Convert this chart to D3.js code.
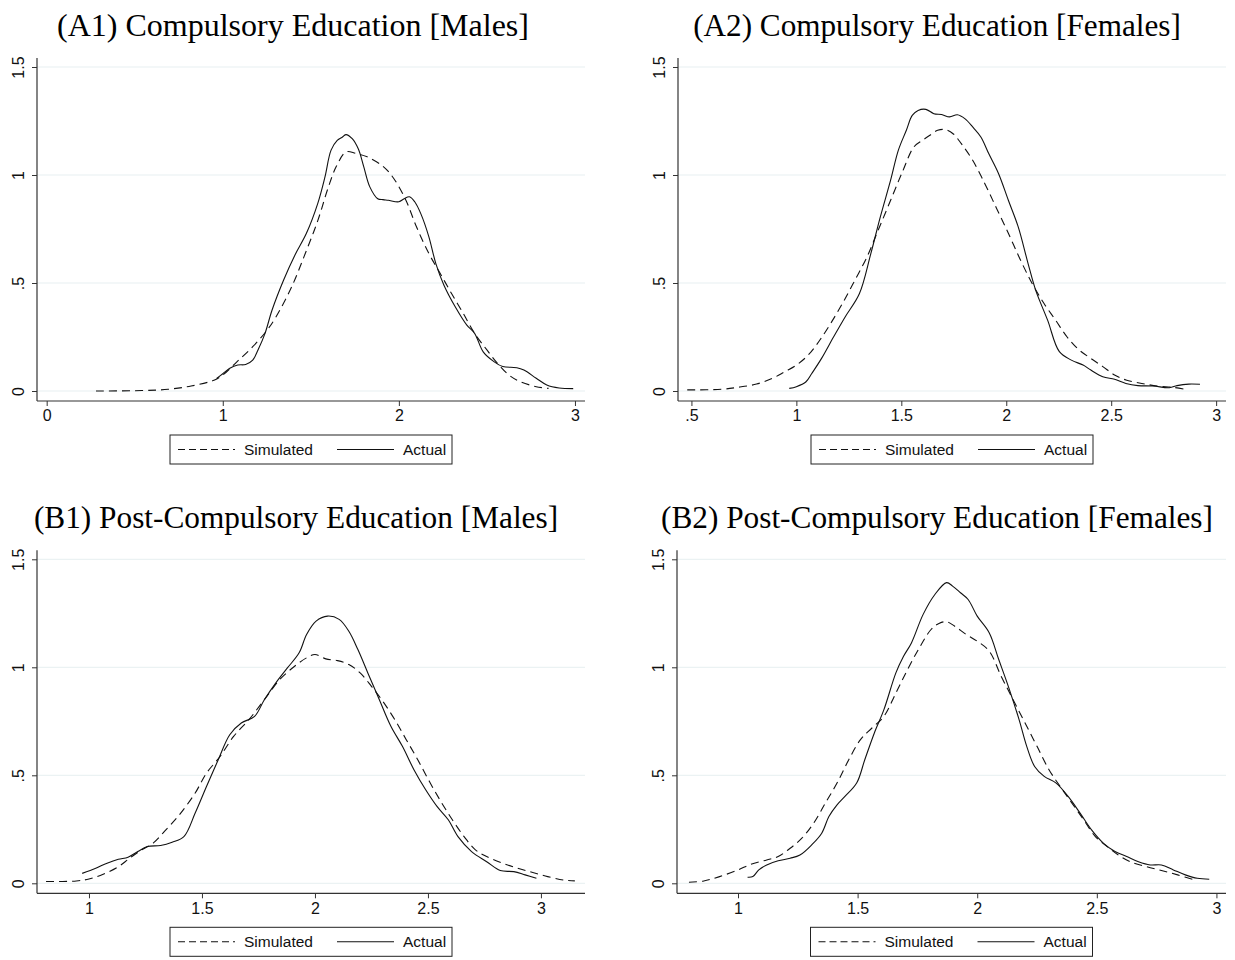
<!DOCTYPE html>
<html>
<head>
<meta charset="utf-8">
<script src="https://cdn.jsdelivr.net/npm/d3@7"></script>
<style>
  html, body { margin: 0; padding: 0; background: #fff; }
  svg { display: block; }
</style>
</head>
<body>
<svg id="chart" width="1235" height="960"></svg>
<script>
// ---------------- DATA ----------------
const panelTitles = [
  "(A1) Compulsory Education [Males]",
  "(A2) Compulsory Education [Females]",
  "(B1) Post-Compulsory Education [Males]",
  "(B2) Post-Compulsory Education [Females]"
];
const seriesNames = ["Simulated", "Actual"];
const yTickValues = [0, 0.5, 1, 1.5];
const yTickLabels = ["0", ".5", "1", "1.5"];
const xTicksA1 = [0, 1, 2, 3];
const xTicksA2 = [0.5, 1, 1.5, 2, 2.5, 3];
const xTicksB1 = [1, 1.5, 2, 2.5, 3];
const xTicksB2 = [1, 1.5, 2, 2.5, 3];

// A1 Compulsory, males
const a1SimX = [0.28,0.54,0.69,0.82,0.95,1.0,1.08,1.17,1.25,1.30,1.39,1.47,1.54,1.60,1.645,1.70,1.755,1.82,1.91,1.97,2.04,2.10,2.17,2.235,2.30,2.365,2.43,2.50,2.56,2.625,2.69,2.78,2.85];
const a1SimY = [0.0,0.002,0.008,0.023,0.05,0.074,0.135,0.205,0.28,0.34,0.48,0.64,0.79,0.945,1.04,1.107,1.10,1.084,1.04,0.985,0.883,0.76,0.637,0.544,0.45,0.36,0.267,0.19,0.128,0.074,0.043,0.02,0.012];
const a1ActX = [0.965,1.0,1.04,1.085,1.13,1.17,1.20,1.24,1.28,1.345,1.41,1.475,1.54,1.58,1.615,1.65,1.68,1.70,1.735,1.77,1.80,1.835,1.88,1.91,1.94,2.0,2.03,2.06,2.09,2.125,2.17,2.21,2.256,2.32,2.386,2.43,2.48,2.54,2.59,2.67,2.71,2.78,2.84,2.91,2.99];
const a1ActY = [0.058,0.08,0.105,0.12,0.123,0.143,0.19,0.267,0.375,0.513,0.63,0.73,0.87,0.99,1.115,1.16,1.176,1.187,1.168,1.12,1.04,0.945,0.89,0.886,0.883,0.876,0.89,0.899,0.876,0.82,0.715,0.59,0.49,0.39,0.305,0.267,0.18,0.136,0.113,0.108,0.097,0.059,0.028,0.014,0.011];

// A2 Compulsory, females
const a2SimX = [0.48,0.644,0.72,0.81,0.887,0.944,1.0,1.056,1.112,1.168,1.224,1.28,1.336,1.39,1.449,1.505,1.56,1.60,1.636,1.673,1.71,1.748,1.786,1.84,1.898,1.954,2.01,2.066,2.122,2.18,2.235,2.29,2.347,2.403,2.46,2.516,2.57,2.646,2.72,2.796,2.852];
const a2SimY = [0.005,0.008,0.017,0.032,0.059,0.089,0.12,0.166,0.236,0.32,0.413,0.515,0.62,0.745,0.883,1.014,1.13,1.16,1.184,1.207,1.21,1.19,1.145,1.068,0.96,0.845,0.73,0.61,0.5,0.405,0.328,0.25,0.19,0.151,0.113,0.074,0.051,0.035,0.023,0.017,0.008];
const a2ActX = [0.966,1.0,1.046,1.074,1.12,1.177,1.233,1.30,1.355,1.40,1.449,1.486,1.524,1.552,1.58,1.617,1.655,1.692,1.73,1.767,1.804,1.842,1.879,1.917,1.963,2.01,2.057,2.104,2.14,2.197,2.253,2.31,2.366,2.403,2.46,2.516,2.57,2.627,2.70,2.777,2.814,2.87,2.923];
const a2ActY = [0.012,0.02,0.043,0.082,0.151,0.25,0.344,0.45,0.637,0.806,0.976,1.115,1.207,1.276,1.299,1.304,1.284,1.28,1.269,1.279,1.26,1.22,1.176,1.098,1.007,0.883,0.76,0.59,0.467,0.328,0.182,0.143,0.12,0.097,0.066,0.054,0.035,0.025,0.023,0.015,0.025,0.032,0.031];

// B1 Post-compulsory, males
const b1SimX = [0.81,0.944,1.0,1.063,1.13,1.18,1.233,1.284,1.334,1.40,1.47,1.52,1.58,1.64,1.708,1.776,1.844,1.91,1.963,2.0,2.048,2.10,2.15,2.20,2.25,2.30,2.353,2.404,2.455,2.506,2.557,2.608,2.66,2.71,2.76,2.83,2.896,2.964,3.03,3.10,3.15];
const b1SimY = [0.008,0.011,0.02,0.042,0.077,0.116,0.155,0.186,0.24,0.317,0.418,0.51,0.587,0.68,0.758,0.85,0.943,1.005,1.044,1.059,1.039,1.031,1.013,0.974,0.912,0.843,0.758,0.665,0.572,0.472,0.379,0.294,0.216,0.155,0.124,0.093,0.07,0.05,0.031,0.015,0.011];
const b1ActX = [0.97,1.03,1.08,1.13,1.173,1.216,1.258,1.317,1.368,1.42,1.47,1.52,1.572,1.623,1.674,1.733,1.776,1.827,1.878,1.93,1.963,2.005,2.056,2.107,2.15,2.19,2.234,2.285,2.336,2.387,2.438,2.49,2.54,2.59,2.633,2.693,2.76,2.82,2.88,2.93,2.98];
const b1ActY = [0.046,0.07,0.093,0.111,0.121,0.147,0.17,0.175,0.19,0.216,0.325,0.448,0.572,0.688,0.742,0.773,0.85,0.928,0.997,1.067,1.152,1.214,1.237,1.222,1.167,1.082,0.974,0.85,0.727,0.634,0.526,0.433,0.356,0.294,0.216,0.147,0.1,0.059,0.054,0.039,0.023];

// B2 Post-compulsory, females
const b2SimX = [0.795,0.857,0.923,1.0,1.054,1.12,1.168,1.218,1.267,1.316,1.365,1.414,1.463,1.512,1.56,1.61,1.66,1.709,1.758,1.807,1.84,1.872,1.905,1.954,2.0,2.05,2.10,2.15,2.20,2.25,2.30,2.347,2.396,2.445,2.494,2.543,2.59,2.64,2.707,2.77,2.838,2.91];
const b2SimY = [0.005,0.011,0.031,0.062,0.088,0.108,0.124,0.162,0.209,0.278,0.371,0.464,0.572,0.665,0.719,0.773,0.881,0.99,1.09,1.175,1.203,1.211,1.191,1.152,1.121,1.075,0.959,0.85,0.742,0.634,0.526,0.448,0.371,0.294,0.216,0.17,0.131,0.1,0.077,0.059,0.039,0.015];
const b2ActX = [1.04,1.062,1.087,1.12,1.168,1.218,1.259,1.308,1.35,1.38,1.414,1.447,1.496,1.53,1.57,1.61,1.66,1.692,1.725,1.774,1.823,1.872,1.897,1.93,1.962,2.0,2.05,2.09,2.13,2.175,2.207,2.24,2.28,2.33,2.38,2.43,2.478,2.527,2.576,2.625,2.674,2.723,2.77,2.82,2.87,2.92,2.97];
const b2ActY = [0.028,0.031,0.062,0.085,0.104,0.116,0.131,0.178,0.232,0.309,0.363,0.402,0.464,0.572,0.696,0.804,0.974,1.051,1.113,1.245,1.337,1.392,1.376,1.345,1.314,1.237,1.16,1.036,0.912,0.758,0.634,0.541,0.495,0.464,0.402,0.325,0.247,0.186,0.147,0.124,0.1,0.085,0.085,0.062,0.039,0.023,0.019];

// ---------------- LAYOUT ----------------
const svg = d3.select("#chart");
const ink = "#111";
const gridColor = "#e7eff1";
const axisColor = "#333";
const sans = "'Liberation Sans', Arial, Helvetica, sans-serif";
const serif = "'Liberation Serif', 'Times New Roman', serif";

const panels = [
  { title: panelTitles[0], titleX: 293, titleSize: 32, left: 37, right: 585, dom: [-0.055, 3.057], top: 0, ticks: xTicksA1,
    sim: [a1SimX, a1SimY], act: [a1ActX, a1ActY] },
  { title: panelTitles[1], titleX: 937, titleSize: 31.2, left: 678, right: 1226, dom: [0.436, 3.047], top: 0, ticks: xTicksA2,
    sim: [a2SimX, a2SimY], act: [a2ActX, a2ActY] },
  { title: panelTitles[2], titleX: 296, titleSize: 31.3, left: 37, right: 585, dom: [0.77, 3.195], top: 492.3, ticks: xTicksB1,
    sim: [b1SimX, b1SimY], act: [b1ActX, b1ActY] },
  { title: panelTitles[3], titleX: 937, titleSize: 31.3, left: 677, right: 1226, dom: [0.745, 3.04], top: 492.3, ticks: xTicksB2,
    sim: [b2SimX, b2SimY], act: [b2ActX, b2ActY] }
];

const fmt = v => {
  const s = String(v);
  return s.startsWith("0.") ? s.slice(1) : s;
};

panels.forEach(p => {
  const g = svg.append("g").attr("transform", `translate(0,${p.top})`);
  const x = d3.scaleLinear().domain(p.dom).range([p.left, p.right]);
  const y = d3.scaleLinear().domain([0, 1.5]).range([391, 67]);
  const axisY = 401, plotTop = 58;

  // title
  g.append("text")
    .attr("x", p.titleX).attr("y", 36)
    .attr("text-anchor", "middle")
    .attr("font-family", serif).attr("font-size", p.titleSize)
    .attr("fill", "#000")
    .text(p.title);

  // gridlines
  g.append("g").selectAll("line").data(yTickValues).join("line")
    .attr("x1", p.left).attr("x2", p.right)
    .attr("y1", d => y(d)).attr("y2", d => y(d))
    .attr("stroke", gridColor).attr("stroke-width", 1);

  // y axis
  const yAxis = d3.axisLeft(y).tickValues(yTickValues)
    .tickFormat((d, i) => yTickLabels[i]).tickSize(5).tickPadding(0);
  const ya = g.append("g").attr("transform", `translate(${p.left},0)`).call(yAxis);
  ya.select(".domain").remove();
  ya.selectAll(".tick line").attr("stroke", axisColor);
  ya.selectAll(".tick text")
    .attr("font-family", sans).attr("font-size", 16).attr("fill", "#111")
    .attr("x", null).attr("dy", null)
    .attr("text-anchor", "middle")
    .attr("transform", "translate(-13,0) rotate(-90)");
  g.append("line").attr("x1", p.left).attr("x2", p.left)
    .attr("y1", plotTop).attr("y2", axisY)
    .attr("stroke", axisColor).attr("stroke-width", 1.2);

  // x axis
  const xAxis = d3.axisBottom(x).tickValues(p.ticks).tickFormat(fmt).tickSize(5).tickPadding(4);
  const xa = g.append("g").attr("transform", `translate(0,${axisY})`).call(xAxis);
  xa.select(".domain").remove();
  xa.selectAll(".tick line").attr("stroke", axisColor);
  xa.selectAll(".tick text").attr("font-family", sans).attr("font-size", 16).attr("fill", "#111");
  g.append("line").attr("x1", p.left).attr("x2", p.right)
    .attr("y1", axisY).attr("y2", axisY)
    .attr("stroke", axisColor).attr("stroke-width", 1.2);

  // curves
  const line = d3.line().x(d => x(d[0])).y(d => y(d[1])).curve(d3.curveCatmullRom.alpha(0.5));
  const simPts = p.sim[0].map((v, i) => [v, p.sim[1][i]]);
  const actPts = p.act[0].map((v, i) => [v, p.act[1][i]]);
  g.append("path").datum(simPts).attr("d", line)
    .attr("fill", "none").attr("stroke", ink).attr("stroke-width", 1.1)
    .attr("stroke-dasharray", "8,5");
  g.append("path").datum(actPts).attr("d", line)
    .attr("fill", "none").attr("stroke", ink).attr("stroke-width", 1.1);

  // legend
  const cx = (p.left + p.right) / 2;
  const lw = 282, lh = 29, lx = cx - lw / 2, ly = 435;
  const lg = g.append("g");
  lg.append("rect").attr("x", lx).attr("y", ly).attr("width", lw).attr("height", lh)
    .attr("fill", "#fff").attr("stroke", "#222").attr("stroke-width", 1);
  const midY = ly + lh / 2;
  lg.append("line").attr("x1", lx + 8).attr("x2", lx + 65).attr("y1", midY).attr("y2", midY)
    .attr("stroke", ink).attr("stroke-width", 1.1).attr("stroke-dasharray", "7,4");
  lg.append("text").attr("x", lx + 74).attr("y", midY + 5.5)
    .attr("font-family", sans).attr("font-size", 15.5).attr("fill", "#111").text(seriesNames[0]);
  lg.append("line").attr("x1", lx + 167).attr("x2", lx + 224).attr("y1", midY).attr("y2", midY)
    .attr("stroke", ink).attr("stroke-width", 1.1);
  lg.append("text").attr("x", lx + 233).attr("y", midY + 5.5)
    .attr("font-family", sans).attr("font-size", 15.5).attr("fill", "#111").text(seriesNames[1]);
});
</script>
</body>
</html>
